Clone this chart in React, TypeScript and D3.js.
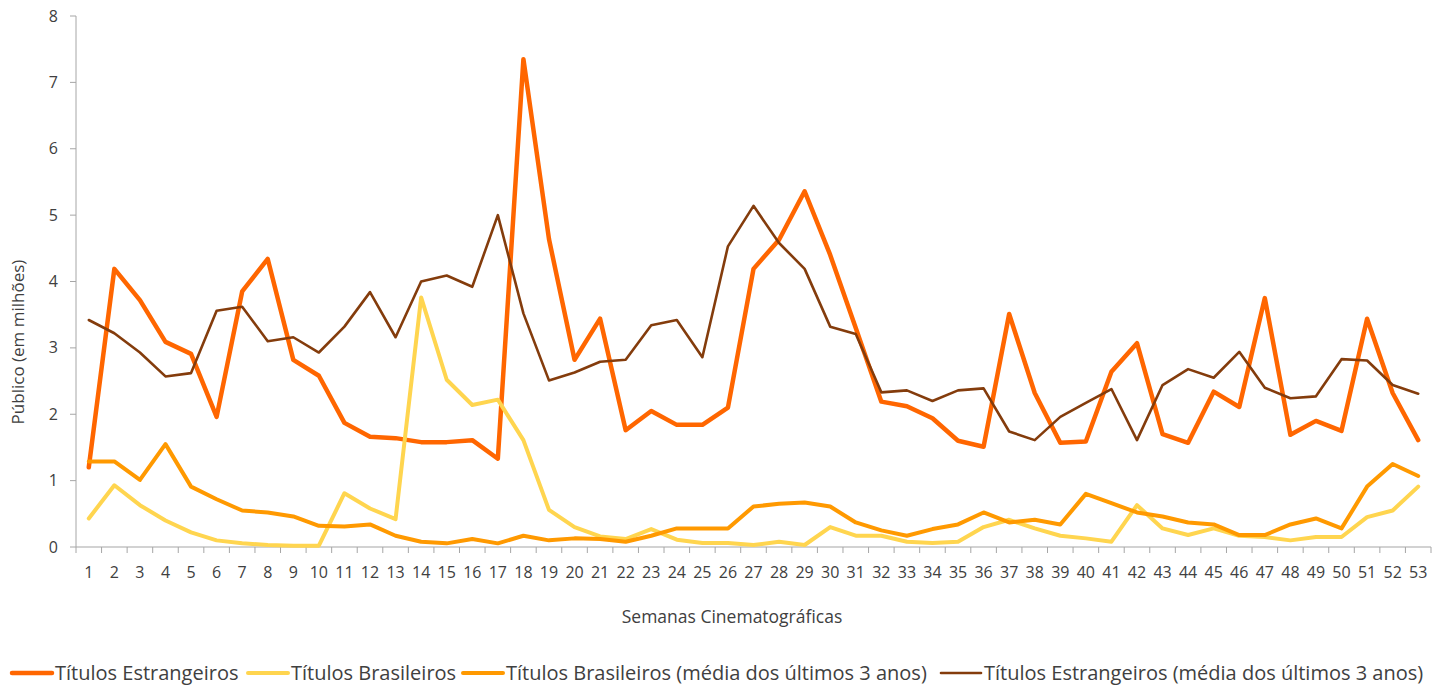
import React from "react";
import * as d3 from "d3";

const weeks: number[] = Array.from({ length: 53 }, (_, i) => i + 1);

const estrangeiros: number[] = [
  1.2, 4.19, 3.72, 3.09, 2.91, 1.96, 3.85, 4.34, 2.82, 2.58,
  1.87, 1.66, 1.64, 1.58, 1.58, 1.61, 1.33, 7.35, 4.64, 2.82,
  3.44, 1.76, 2.05, 1.84, 1.84, 2.1, 4.19, 4.63, 5.36, 4.4,
  3.3, 2.19, 2.12, 1.94, 1.6, 1.51, 3.51, 2.32, 1.57, 1.59,
  2.64, 3.07, 1.7, 1.57, 2.34, 2.11, 3.75, 1.69, 1.9, 1.75,
  3.44, 2.32, 1.61,
];

const brasileiros: number[] = [
  0.43, 0.93, 0.63, 0.4, 0.22, 0.1, 0.055, 0.03, 0.02, 0.02,
  0.81, 0.58, 0.42, 3.76, 2.52, 2.14, 2.22, 1.61, 0.56, 0.3,
  0.16, 0.12, 0.27, 0.11, 0.06, 0.06, 0.03, 0.08, 0.03, 0.3,
  0.17, 0.17, 0.08, 0.06, 0.08, 0.3, 0.41, 0.28, 0.17, 0.13,
  0.08, 0.63, 0.28, 0.18, 0.28, 0.17, 0.15, 0.1, 0.15, 0.15,
  0.45, 0.55, 0.91,
];

const brasileirosMedia: number[] = [
  1.29, 1.29, 1.01, 1.55, 0.91, 0.72, 0.55, 0.52, 0.46, 0.32,
  0.31, 0.34, 0.17, 0.08, 0.055, 0.12, 0.055, 0.17, 0.1, 0.13,
  0.12, 0.08, 0.17, 0.28, 0.28, 0.28, 0.61, 0.65, 0.67, 0.61,
  0.37, 0.25, 0.17, 0.27, 0.34, 0.52, 0.37, 0.41, 0.34, 0.8,
  0.66, 0.52, 0.46, 0.37, 0.34, 0.18, 0.18, 0.34, 0.43, 0.28,
  0.91, 1.25, 1.07,
];

const estrangeirosMedia: number[] = [
  3.42, 3.22, 2.93, 2.57, 2.62, 3.56, 3.62, 3.1, 3.16, 2.93,
  3.32, 3.84, 3.16, 4.0, 4.09, 3.92, 5.0, 3.52, 2.51, 2.63,
  2.79, 2.82, 3.34, 3.42, 2.86, 4.53, 5.14, 4.58, 4.19, 3.32,
  3.21, 2.33, 2.36, 2.2, 2.36, 2.39, 1.74, 1.61, 1.96, 2.17,
  2.38, 1.61, 2.44, 2.68, 2.55, 2.94, 2.4, 2.24, 2.27, 2.83,
  2.81, 2.44, 2.31,
];

const yTicks: number[] = [0, 1, 2, 3, 4, 5, 6, 7, 8];

const seriesNames: string[] = [
  "Títulos Estrangeiros",
  "Títulos Brasileiros",
  "Títulos Brasileiros (média dos últimos 3 anos)",
  "Títulos Estrangeiros (média dos últimos 3 anos)",
];
const seriesValues: number[][] = [estrangeiros, brasileiros, brasileirosMedia, estrangeirosMedia];
const seriesColors: string[] = ["#FF6600", "#FFD54F", "#FF9900", "#843C0C"];
const seriesWidths: number[] = [4.5, 4, 4, 2.6];
const legendX: number[] = [12, 248, 463, 941];

const W = 1442;
const H = 691;
const FONT = "'Open Sans', 'Noto Sans', sans-serif";
const TEXT = "#404040";
const AXIS = "#A6A6A6";

export default function App() {
  const x = d3.scaleLinear().domain([0.5, 53.5]).range([76, 1431]);
  const y = d3.scaleLinear().domain([0, 8]).range([547, 16]);
  const line = d3
    .line<number>()
    .x((_, i) => x(weeks[i]))
    .y((d) => y(d));
  const boundaries = d3.range(0, 54).map((k) => k + 0.5);

  return (
    <svg
      width={W}
      height={H}
      style={{ position: "absolute", left: 0, top: 0, background: "#fff" }}
      fontFamily={FONT}
    >
      {/* y axis */}
      <line x1={x(0.5)} x2={x(0.5)} y1={y(8)} y2={y(0)} stroke={AXIS} strokeWidth={1} />
      {yTicks.map((t) => (
        <g key={"yt" + t}>
          <line x1={x(0.5) - 6} x2={x(0.5)} y1={y(t)} y2={y(t)} stroke={AXIS} strokeWidth={1} />
          <text x={58} y={y(t)} dy="0.35em" textAnchor="end" fontSize={16} fill={TEXT}>
            {t}
          </text>
        </g>
      ))}
      {/* x axis */}
      <line x1={x(0.5)} x2={x(53.5)} y1={y(0)} y2={y(0)} stroke={AXIS} strokeWidth={1.2} />
      {boundaries.map((b) => (
        <line key={"xb" + b} x1={x(b)} x2={x(b)} y1={y(0)} y2={y(0) + 6} stroke={AXIS} strokeWidth={1} />
      ))}
      {weeks.map((w) => (
        <text key={"xl" + w} x={x(w)} y={578} textAnchor="middle" fontSize={16} fill={TEXT}>
          {w}
        </text>
      ))}
      <text x={732} y={623} textAnchor="middle" fontSize={17.5} fill={TEXT}>
        Semanas Cinematográficas
      </text>
      <text
        transform={`translate(24, 342) rotate(-90)`}
        textAnchor="middle"
        fontSize={17}
        fill={TEXT}
      >
        Público (em milhões)
      </text>
      {/* series */}
      {seriesValues.map((vals, si) => (
        <path
          key={"s" + si}
          d={line(vals) || ""}
          fill="none"
          stroke={seriesColors[si]}
          strokeWidth={seriesWidths[si]}
          strokeLinejoin="round"
          strokeLinecap="round"
        />
      ))}
      {/* legend */}
      {seriesNames.map((name, si) => (
        <g key={"lg" + si}>
          <line
            x1={legendX[si]}
            x2={legendX[si] + 40}
            y1={673}
            y2={673}
            stroke={seriesColors[si]}
            strokeWidth={seriesWidths[si]}
            strokeLinecap="round"
          />
          <text x={legendX[si] + 43} y={680} fontSize={20} fill={TEXT}>
            {name}
          </text>
        </g>
      ))}
    </svg>
  );
}
